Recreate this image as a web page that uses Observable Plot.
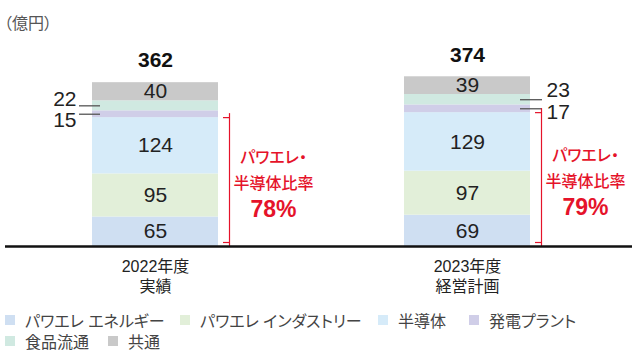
<!DOCTYPE html>
<html>
<head>
<meta charset="utf-8">
<script src="https://cdn.jsdelivr.net/npm/d3@7"></script>
<script src="https://cdn.jsdelivr.net/npm/@observablehq/plot@0.6"></script>
<style>
  html, body { margin: 0; padding: 0; background: #fff; }
  body { width: 640px; height: 356px; overflow: hidden;
         font-family: "Liberation Sans", "Noto Sans CJK JP", sans-serif;
         font-feature-settings: "palt"; }
  #unit { height: 30px; box-sizing: border-box; padding: 15px 0 0 4px; font-size: 16px; line-height: 17px; color: #555; }
  #legend { height: 56px; box-sizing: border-box; padding: 9.5px 0 0 5px; color: #444; font-size: 16px; }
  .row { display: flex; height: 21px; align-items: center; }
  .item { display: flex; align-items: center; white-space: nowrap; }
  .sw { width: 10px; height: 10px; margin-right: 10px; flex: none; }
</style>
</head>
<body>
<div id="unit">（億円）</div>
<div id="chart"></div>
<div id="legend"></div>
<script>
// ---- data ----
const years = ["2022年度\n実績", "2023年度\n経営計画"];
const series = ["パワエレ エネルギー", "パワエレ インダストリー", "半導体", "発電プラント", "食品流通", "共通"];
const values2022 = [65, 95, 124, 15, 22, 40];
const values2023 = [69, 97, 129, 17, 23, 39];
const totals = [362, 374];
const ratioLabels = ["78%", "79%"];
const ratioTitle1 = "パワエレ・";
const ratioTitle2 = "半導体比率";
const colors = ["#cfdff2", "#e2efd9", "#d6ebf9", "#d0cee8", "#d0e9e1", "#c9c9c9"];
const inBarSeries = ["パワエレ エネルギー", "パワエレ インダストリー", "半導体", "共通"];

// ---- tables ----
const valuesByYear = [values2022, values2023];
const data = years.flatMap((y, i) => series.map((s, j) => ({year: y, series: s, value: valuesByYear[i][j]})));
const data2022 = data.filter(d => d.year === years[0]);
const data2023 = data.filter(d => d.year === years[1]);
const totalsData = years.map((y, i) => ({year: y, total: totals[i]}));
const brackets = years.map((y, i) => {
  const top = d3.sum(valuesByYear[i].slice(0, 3));
  return {year: y, top, mid: top / 2, label: ratioLabels[i]};
});

const red = "#e5132a";
const stk = (o) => Plot.stackY({x: "year", y: "value", ...o});

const chart = Plot.plot({
  width: 640,
  height: 270,
  marginTop: 0,
  marginBottom: 54,
  marginLeft: 5,
  marginRight: 8,
  style: 'font-family: "Liberation Sans", "Noto Sans CJK JP", sans-serif; font-feature-settings: "palt"; background: #fff;',
  x: {domain: years, paddingInner: 0.5974, paddingOuter: 0.3003, align: 0.4574, axis: null},
  y: {domain: [0, 476], axis: null},
  color: {domain: series, range: colors},
  marks: [
    Plot.barY(data, stk({fill: "series"})),
    // in-bar labels
    Plot.text(data, Plot.filter(d => inBarSeries.includes(d.series), stk({text: "value", fontSize: 21, fill: "#222"}))),
    // small-segment leader lines
    Plot.tickY(data2022, Plot.filter(d => !inBarSeries.includes(d.series), stk({stroke: "#555", strokeWidth: 1.3, insetLeft: -13, insetRight: 118}))),
    Plot.tickY(data2023, Plot.filter(d => !inBarSeries.includes(d.series), stk({stroke: "#555", strokeWidth: 1.3, insetLeft: 116, insetRight: -12}))),
    // small-segment labels
    Plot.text(data2022, Plot.filter(d => d.series === "食品流通", stk({text: "value", fontSize: 21, fill: "#222", textAnchor: "end", dx: -79, dy: -7}))),
    Plot.text(data2022, Plot.filter(d => d.series === "発電プラント", stk({text: "value", fontSize: 21, fill: "#222", textAnchor: "end", dx: -79, dy: 6}))),
    Plot.text(data2023, Plot.filter(d => d.series === "食品流通", stk({text: "value", fontSize: 21, fill: "#222", textAnchor: "start", dx: 79, dy: -9}))),
    Plot.text(data2023, Plot.filter(d => d.series === "発電プラント", stk({text: "value", fontSize: 21, fill: "#222", textAnchor: "start", dx: 79, dy: 3}))),
    // totals
    Plot.text(totalsData, {x: "year", y: "total", text: d => String(d.total), fontSize: 21, fontWeight: "bold", fill: "#111", dy: -22}),
    // red bracket
    Plot.ruleX(brackets, {x: "year", y1: 0, y2: "top", dx: 74, stroke: red, strokeWidth: 1.2, insetBottom: 4}),
    Plot.tickY(brackets, {x: "year", y: "top", stroke: red, strokeWidth: 1.2, insetLeft: 131, insetRight: -11}),
    Plot.tickY(brackets, {x: "year", y: 0, stroke: red, strokeWidth: 1.2, insetLeft: 131, insetRight: -11, dy: -4}),
    Plot.text(brackets, {x: "year", y: "mid", text: () => ratioTitle1, fontSize: 16, fontWeight: 500, fill: red, dx: 118, dy: -24}),
    Plot.text(brackets, {x: "year", y: "mid", text: () => ratioTitle2, fontSize: 16, fontWeight: 500, fill: red, dx: 118, dy: 2}),
    Plot.text(brackets, {x: "year", y: "mid", text: "label", fontSize: 23, fontWeight: "bold", fill: red, dx: 118, dy: 28}),
    // baseline
    Plot.ruleY([0], {stroke: "#111", strokeWidth: 2.5}),
    // x axis
    Plot.axisX({tickSize: 0, tickPadding: 11, fontSize: 16, lineHeight: 1.25, fill: "#222", label: null})
  ]
});
document.getElementById("chart").appendChild(chart);

// ---- legend ----
const rows = [[0, 1, 2, 3], [4, 5]];
const widthsRow = [[175, 198, 91, null], [103, null]];
const legend = document.getElementById("legend");
rows.forEach((r, ri) => {
  const row = document.createElement("div");
  row.className = "row";
  r.forEach((idx, k) => {
    const item = document.createElement("div");
    item.className = "item";
    const w = widthsRow[ri][k];
    if (w) item.style.width = w + "px";
    const sw = document.createElement("span");
    sw.className = "sw";
    sw.style.background = colors[idx];
    const label = document.createElement("span");
    label.textContent = series[idx];
    item.appendChild(sw);
    item.appendChild(label);
    row.appendChild(item);
  });
  legend.appendChild(row);
});
</script>
</body>
</html>
